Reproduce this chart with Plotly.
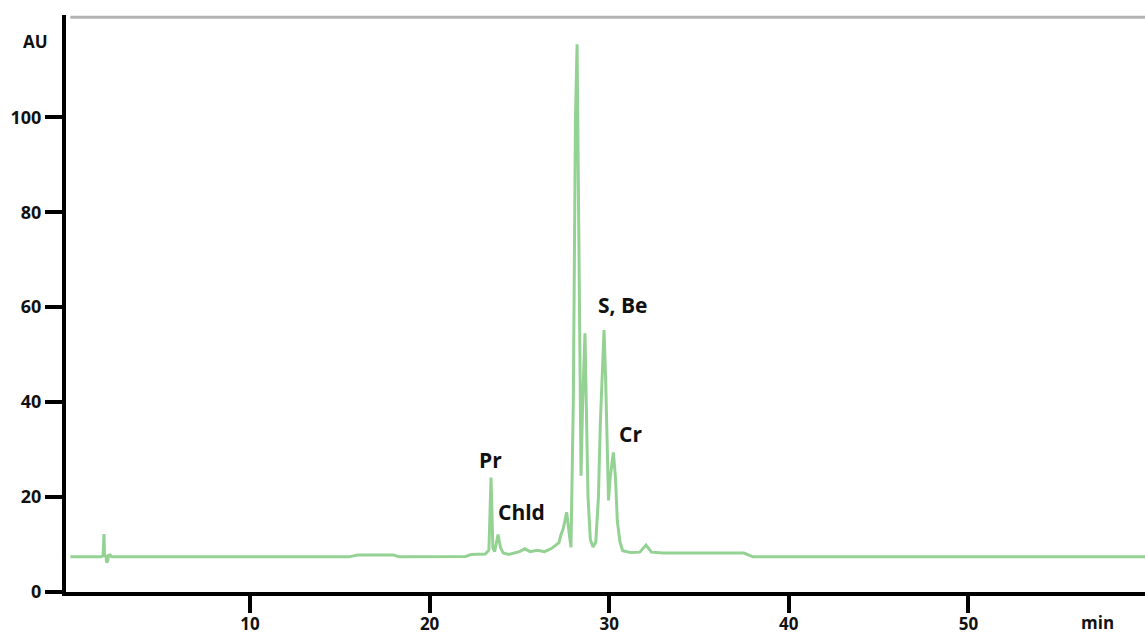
import plotly.graph_objects as go

# Chromatogram trace (retention time in min, absorbance in AU)
time_min = [0.0, 1.7, 1.82, 1.87, 1.9, 1.98, 2.02, 2.08, 2.12, 2.2, 2.3,
            15.5, 16.0, 18.0, 18.3, 22.0, 22.3, 23.1, 23.3, 23.42, 23.52,
            23.62, 23.81, 23.95, 24.1, 24.4, 25.0, 25.3, 25.6, 26.0, 26.4,
            26.8, 27.2, 27.3, 27.45, 27.63, 27.75, 27.87, 28.0, 28.12, 28.21,
            28.3, 28.38, 28.43, 28.52, 28.65, 28.72, 28.82, 28.95, 29.1,
            29.25, 29.4, 29.5, 29.6, 29.71, 29.8, 29.88, 29.96, 30.05, 30.23,
            30.35, 30.45, 30.6, 30.75, 31.2, 31.7, 32.05, 32.35, 33.0, 35.5,
            36.0, 37.5, 38.0, 59.9]
absorbance = [7.4, 7.4, 7.6, 12.2, 7.8, 7.5, 6.2, 6.6, 7.7, 7.8, 7.4,
              7.4, 7.8, 7.8, 7.4, 7.5, 7.9, 8.0, 8.8, 24.1, 9.3,
              8.5, 12.1, 9.3, 8.2, 7.9, 8.5, 9.1, 8.5, 8.8, 8.5,
              9.2, 10.4, 11.9, 13.5, 16.8, 13.0, 9.4, 40.0, 100.0, 115.4,
              80.0, 40.0, 24.5, 40.0, 54.5, 40.0, 20.0, 11.0, 9.5,
              10.5, 20.0, 35.0, 45.0, 55.2, 45.0, 28.0, 19.3, 24.0, 29.4,
              24.0, 15.0, 10.5, 8.7, 8.3, 8.4, 9.9, 8.4, 8.2, 8.2,
              8.3, 8.2, 7.4, 7.4]

x_ticks = [10, 20, 30, 40, 50]
y_ticks = [0, 20, 40, 60, 80, 100]

peak_names = ["Pr", "Chld", "S, Be", "Cr"]
peak_label_x = [23.39, 25.11, 30.74, 31.21]
peak_label_y = [27.8, 16.9, 60.5, 33.3]

font_family = "Open Sans"

fig = go.Figure()
fig.add_trace(go.Scatter(
    x=time_min, y=absorbance, mode="lines",
    line=dict(color="rgb(148,210,148)", width=3),
    hoverinfo="x+y", showlegend=False,
))

for name, lx, ly in zip(peak_names, peak_label_x, peak_label_y):
    fig.add_annotation(x=lx, y=ly, xref="x", yref="y", text=name,
                       showarrow=False,
                       font=dict(family=font_family, size=21, color="#111111",
                                 weight="bold"))

fig.add_annotation(x=0, y=1, xref="paper", yref="paper", xshift=-31, yshift=-26,
                   xanchor="center", yanchor="middle",
                   text="AU", showarrow=False,
                   font=dict(family=font_family, size=17, color="#111111", weight="bold"))
fig.add_annotation(x=57.19, y=0, xref="x", yref="paper", yshift=-30,
                   xanchor="center", yanchor="middle",
                   text="min", showarrow=False,
                   font=dict(family=font_family, size=17, color="#111111", weight="bold"))

fig.add_shape(type="line", xref="paper", yref="paper", x0=0.004, x1=1,
              y0=0.996, y1=0.996, line=dict(color="#b3b3b3", width=3))

tick_font = dict(family=font_family, size=18, color="#111111", weight="bold")
x_tick_font = dict(family=font_family, size=17, color="#111111", weight="bold")

fig.update_layout(
    width=1145, height=637,
    margin=dict(l=66, r=0, t=15, b=45, autoexpand=False),
    paper_bgcolor="white", plot_bgcolor="white",
    xaxis=dict(range=[-0.245, 59.83], tickvals=x_ticks, showgrid=False,
               zeroline=False, showline=True, linecolor="black", linewidth=4,
               ticks="outside", ticklen=17, tickwidth=4, tickcolor="black",
               tickfont=x_tick_font, ticklabelstandoff=-3, automargin=False),
    yaxis=dict(range=[0, 121.55], tickvals=y_ticks, showgrid=False,
               zeroline=False, showline=True, linecolor="black", linewidth=4,
               ticks="outside", ticklen=17, tickwidth=4, tickcolor="black",
               tickfont=tick_font, automargin=False),
)

fig.write_html("out.html")
